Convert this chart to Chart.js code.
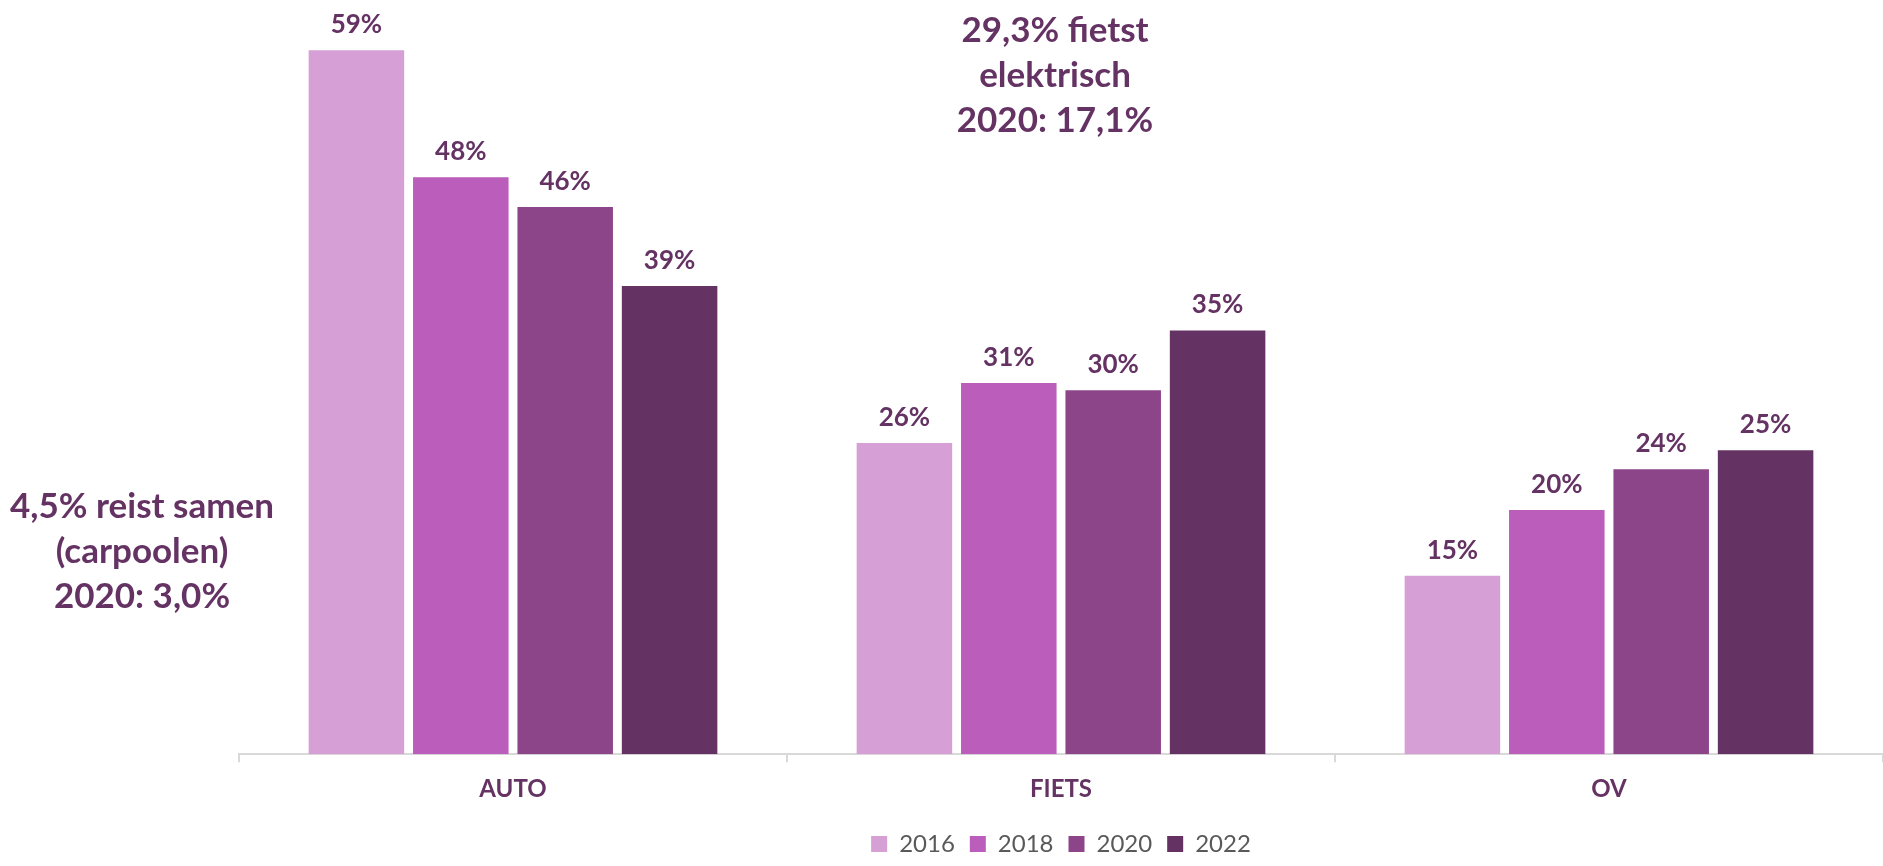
<!DOCTYPE html>
<html>
<head>
<meta charset="utf-8">
<script src="https://cdn.jsdelivr.net/npm/chart.js@4/dist/chart.umd.min.js"></script>
<style>
  html, body { margin: 0; padding: 0; background: #fff; }
  #wrap { width: 1883px; height: 866px; position: relative; }
</style>
</head>
<body>
<div id="wrap"><canvas id="plot"></canvas></div>
<script>
var categories = ['AUTO', 'FIETS', 'OV'];
var years = ['2016', '2018', '2020', '2022'];
var values2016 = [58.8, 26.0, 14.9];
var values2018 = [48.2, 31.0, 20.4];
var values2020 = [45.7, 30.4, 23.8];
var values2022 = [39.1, 35.4, 25.4];
var colors = ['#d69fd6', '#bb5dba', '#8d458a', '#643263'];

var noteFiets = ['29,3% fietst', 'elektrisch', '2020: 17,1%'];
var noteAuto = ['4,5% reist samen', '(carpoolen)', '2020: 3,0%'];

var FONT = 'Lato, "Open Sans", sans-serif';
var DARK = '#643263';

// percent labels above each bar
var barLabels = {
    id: 'barLabels',
    afterDatasetsDraw: function(chart){
        var ctx = chart.ctx;
        ctx.save();
        ctx.fillStyle = DARK;
        ctx.font = 'bold 26px ' + FONT;
        ctx.textAlign = 'center';
        ctx.textBaseline = 'alphabetic';
        chart.data.datasets.forEach(function(ds, i){
            chart.getDatasetMeta(i).data.forEach(function(bar, j){
                ctx.fillText(Math.round(ds.data[j]) + '%', bar.x, bar.y - 17);
            });
        });
        ctx.restore();
    }
};

// the two text notes
var notes = {
    id: 'notes',
    afterDraw: function(chart){
        var ctx = chart.ctx;
        var x = chart.scales.x;
        ctx.save();
        ctx.fillStyle = DARK;
        ctx.font = 'bold 35px ' + FONT;
        ctx.textAlign = 'center';
        ctx.textBaseline = 'middle';
        var cx = x.getPixelForValue(1) - 6;
        noteFiets.forEach(function(t, k){ ctx.fillText(t, cx, 31 + k * 45); });
        noteAuto.forEach(function(t, k){ ctx.fillText(t, 142, 507 + k * 45); });
        ctx.restore();
    }
};

var ctx = document.getElementById('plot').getContext('2d');
var chart = new Chart(ctx, {
    type: 'bar',
    data: {
        labels: categories,
        datasets: [
            {label: years[0], data: values2016, backgroundColor: colors[0]},
            {label: years[1], data: values2018, backgroundColor: colors[1]},
            {label: years[2], data: values2020, backgroundColor: colors[2]},
            {label: years[3], data: values2022, backgroundColor: colors[3]}
        ]
    },
    options: {
        responsive: true,
        maintainAspectRatio: false,
        animation: false,
        devicePixelRatio: 1,
        layout: {padding: {left: 239, right: 0, top: 0, bottom: 0}},
        datasets: {bar: {categoryPercentage: 0.762, barPercentage: 0.915}},
        scales: {
            y: {display: false, min: 0, max: 63},
            x: {
                grid: {drawOnChartArea: false, drawTicks: true, tickLength: 8, color: '#d9d9d9', lineWidth: 2},
                border: {color: '#d9d9d9', width: 2},
                ticks: {color: DARK, font: {family: FONT, size: 24, weight: 'bold'}, padding: 13}
            }
        },
        plugins: {
            legend: {
                position: 'bottom',
                labels: {
                    color: '#595959',
                    font: {family: FONT, size: 24},
                    boxWidth: 16, boxHeight: 16, padding: 15
                }
            },
            tooltip: {enabled: false}
        }
    },
    plugins: [barLabels, notes]
});
</script>
</body>
</html>
